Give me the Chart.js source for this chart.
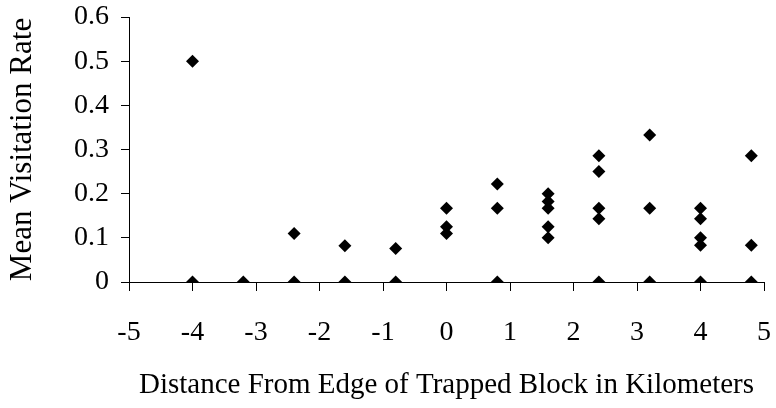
<!DOCTYPE html>
<html>
<head>
<meta charset="utf-8">
<script src="https://cdn.jsdelivr.net/npm/chart.js@4/dist/chart.umd.min.js"></script>
<style>
  html, body { margin: 0; padding: 0; background: #fff; }
  #wrap { width: 776px; height: 408px; }
</style>
</head>
<body>
<div id="wrap"><canvas id="myChart" width="776" height="408"></canvas></div>
<script>
// distance from edge of trapped block (km) and mean visitation rate, one entry per plotted point
const distances = [
  -4, -4,
  -3.2,
  -2.4, -2.4,
  -1.6, -1.6,
  -0.8, -0.8,
  0, 0, 0,
  0.8, 0.8, 0.8,
  1.6, 1.6, 1.6, 1.6, 1.6,
  2.4, 2.4, 2.4, 2.4, 2.4,
  3.2, 3.2, 3.2,
  4, 4, 4, 4, 4,
  4.8, 4.8, 4.8
]
const rates = [
  0.5, 0,
  0,
  0.11, 0,
  0.082, 0,
  0.076, 0,
  0.167, 0.125, 0.11,
  0.222, 0.167, 0,
  0.2, 0.182, 0.167, 0.125, 0.1,
  0.286, 0.25, 0.167, 0.143, 0,
  0.333, 0.167, 0,
  0.167, 0.143, 0.1, 0.083, 0,
  0.286, 0.083, 0
]

const xTicks = [-5, -4, -3, -2, -1, 0, 1, 2, 3, 4, 5]
const yTicks = [0, 0.1, 0.2, 0.3, 0.4, 0.5, 0.6]

const xTitle = 'Distance From Edge of Trapped Block in Kilometers'
const yTitle = 'Mean Visitation Rate'

const fontFamily = '"Liberation Serif", "Times New Roman", serif'

var points = distances.map(function (d, i) {
  return { x: d, y: rates[i] }
})

var ctx = document.getElementById('myChart')

new Chart(ctx, {
  type: 'scatter',
  data: {
    datasets: [{
      data: points,
      pointStyle: 'rectRot',
      pointRadius: 6.5,
      pointHoverRadius: 6.5,
      backgroundColor: '#000',
      borderColor: '#000',
      borderWidth: 0
    }]
  },
  options: {
    responsive: false,
    animation: false,
    events: [],
    layout: { padding: { top: 17, left: 0, right: 12, bottom: 0 } },
    plugins: {
      legend: { display: false },
      tooltip: { enabled: false }
    },
    scales: {
      x: {
        type: 'linear',
        min: xTicks[0],
        max: xTicks[xTicks.length - 1],
        afterBuildTicks: function (scale) {
          scale.ticks = xTicks.map(function (v) { return { value: v } })
        },
        afterFit: function (scale) {
          scale.height = 126
          scale.paddingLeft = 0
          scale.paddingRight = 0
        },
        border: { display: true, color: '#000', width: 1 },
        grid: { drawOnChartArea: false, drawTicks: true, tickLength: 9, color: '#000' },
        ticks: {
          color: '#000',
          padding: 25,
          maxRotation: 0,
          font: { family: fontFamily, size: 28 }
        },
        title: {
          display: true,
          text: xTitle,
          color: '#000',
          padding: { top: 0, bottom: 5 },
          font: { family: fontFamily, size: 29 }
        }
      },
      y: {
        type: 'linear',
        min: yTicks[0],
        max: yTicks[yTicks.length - 1],
        afterBuildTicks: function (scale) {
          scale.ticks = yTicks.map(function (v) { return { value: v } })
        },
        afterFit: function (scale) {
          scale.width = 129
          scale.paddingTop = 0
          scale.paddingBottom = 0
        },
        border: { display: true, color: '#000', width: 1 },
        grid: { drawOnChartArea: false, drawTicks: true, tickLength: 8, color: '#000' },
        ticks: {
          color: '#000',
          padding: 12,
          font: { family: fontFamily, size: 28 },
          callback: function (v) { return String(+v.toFixed(1)) }
        },
        title: {
          display: true,
          text: yTitle,
          color: '#000',
          padding: { top: 4, bottom: 0 },
          font: { family: fontFamily, size: 31 }
        }
      }
    }
  }
})
</script>
</body>
</html>
